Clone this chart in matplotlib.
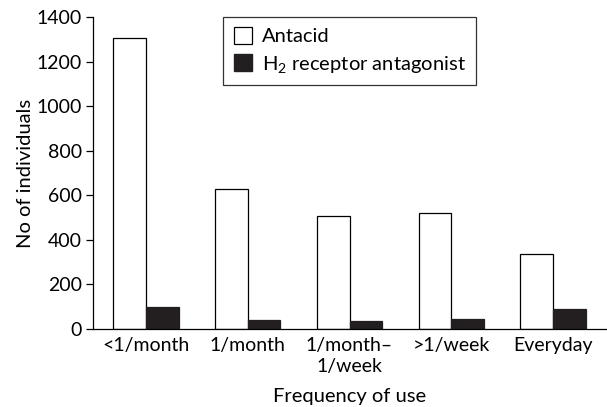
import numpy as np
import matplotlib
matplotlib.use("Agg")
import matplotlib.pyplot as plt
from matplotlib.patches import Patch

plt.rcParams['font.family'] = ['Lato', 'DejaVu Sans']
plt.rcParams['mathtext.fontset'] = 'custom'
plt.rcParams['mathtext.rm'] = 'Lato'
plt.rcParams['mathtext.default'] = 'rm'

# data
categories = ['<1/month', '1/month', '1/month–\n1/week', '>1/week', 'Everyday']
antacid = [1308, 629, 505, 521, 337]
h2_antagonist = [99, 40, 36, 46, 91]
series_labels = ['Antacid', 'H$_2$ receptor antagonist']

fig = plt.figure(figsize=(6.07, 4.07), dpi=100)
ax = fig.add_axes([0.153, 0.192, 0.847, 0.766])

x = np.arange(len(categories))
width = 0.32
ax.bar(x - width / 2, antacid, width, color='white', edgecolor='black', linewidth=0.9)
ax.bar(x + width / 2, h2_antagonist, width, color='#231f20', edgecolor='#231f20', linewidth=0.9)

ax.set_xlim(-0.522, 4.53)
ax.set_ylim(0, 1400)
ax.set_yticks(range(0, 1401, 200))
ax.set_xticks(x)
ax.set_xticklabels(categories, fontsize=14, linespacing=1.25)
ax.tick_params(axis='x', length=0, pad=6)
ax.tick_params(axis='y', length=5, width=0.9, labelsize=14, pad=3)

for side in ('top', 'right'):
    ax.spines[side].set_visible(False)
for side in ('left', 'bottom'):
    ax.spines[side].set_linewidth(0.9)

ax.set_ylabel('No of individuals', fontsize=14.5)
ax.yaxis.set_label_coords(-0.132, 0.5)
ax.set_xlabel('Frequency of use', fontsize=14.5)
ax.xaxis.set_label_coords(0.5, -0.216)
ax.xaxis.label.set_va('center')
ax.yaxis.label.set_va('center')

handles = [Patch(facecolor='white', edgecolor='black', linewidth=0.9),
           Patch(facecolor='#231f20', edgecolor='#231f20')]
leg = ax.legend(handles, series_labels, loc='upper left', bbox_to_anchor=(0.254, 1.0),
                borderaxespad=0, fontsize=14.5, frameon=True, fancybox=False,
                edgecolor='black', handlelength=0.9, handleheight=0.9,
                handletextpad=0.5, borderpad=0.5, labelspacing=0.4)
leg.get_frame().set_linewidth(0.9)

fig.savefig('out.png', dpi=100)
